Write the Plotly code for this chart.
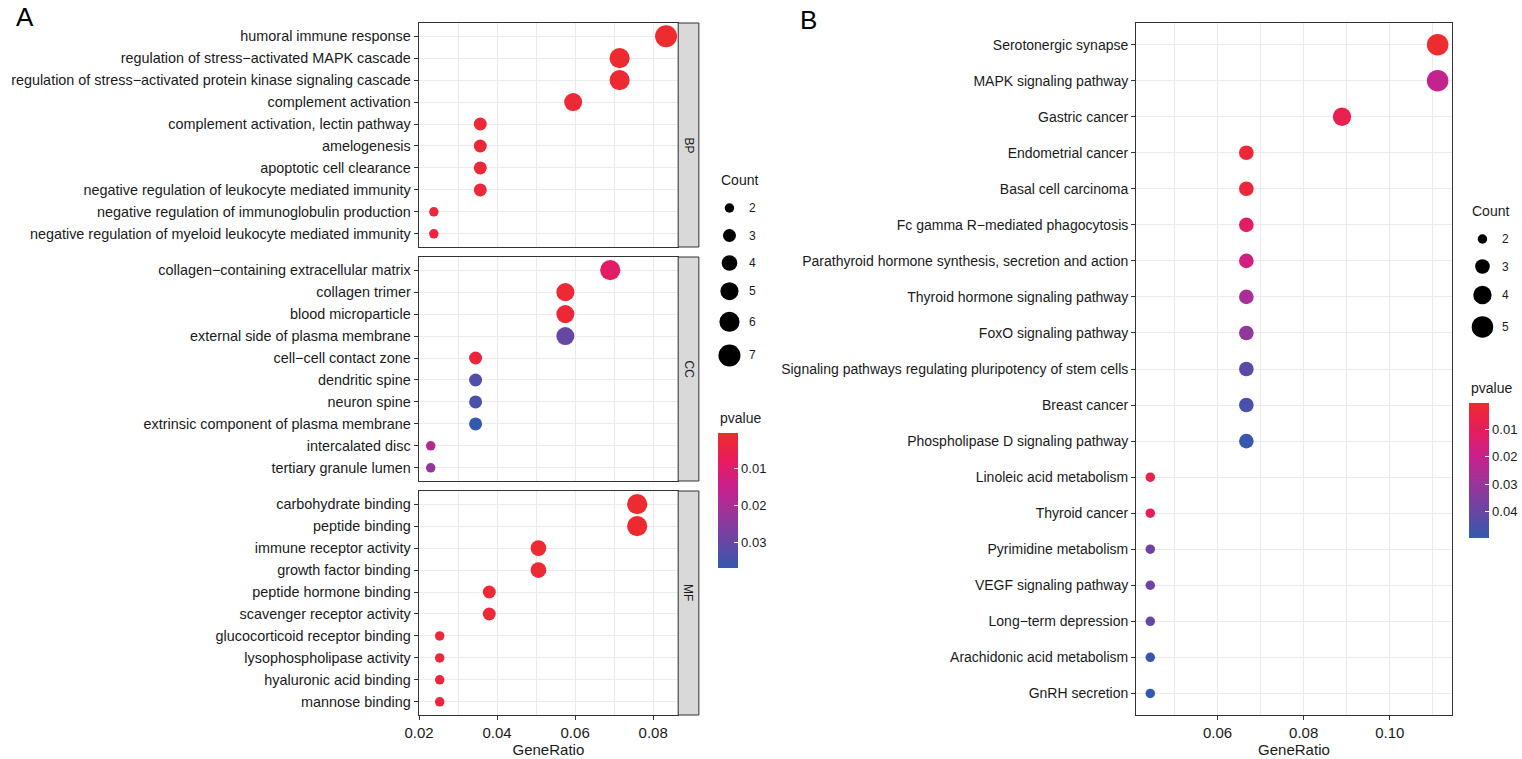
import math
import plotly.graph_objects as go

W, H = 1522, 759
FONT = "Liberation Sans Narrow, Liberation Sans, Arial, sans-serif"
TXT = "#1A1A1A"
GRID = "#EBEBEB"
LINE = "#333333"

# ---------------- data: panel A (GO) ----------------
bp_terms = ["humoral immune response",
            "regulation of stress\u2212activated MAPK cascade",
            "regulation of stress\u2212activated protein kinase signaling cascade",
            "complement activation",
            "complement activation, lectin pathway",
            "amelogenesis",
            "apoptotic cell clearance",
            "negative regulation of leukocyte mediated immunity",
            "negative regulation of immunoglobulin production",
            "negative regulation of myeloid leukocyte mediated immunity"]
bp_ratio = [0.0833, 0.0714, 0.0714, 0.0595, 0.0357, 0.0357, 0.0357, 0.0357, 0.0238, 0.0238]
bp_count = [7, 6, 6, 5, 3, 3, 3, 3, 2, 2]
bp_pval = [0.0004, 0.0008, 0.0010, 0.0012, 0.0014, 0.0016, 0.0018, 0.0020, 0.0024, 0.0028]

cc_terms = ["collagen\u2212containing extracellular matrix",
            "collagen trimer",
            "blood microparticle",
            "external side of plasma membrane",
            "cell\u2212cell contact zone",
            "dendritic spine",
            "neuron spine",
            "extrinsic component of plasma membrane",
            "intercalated disc",
            "tertiary granule lumen"]
cc_ratio = [0.0690, 0.0575, 0.0575, 0.0575, 0.0345, 0.0345, 0.0345, 0.0345, 0.0230, 0.0230]
cc_count = [6, 5, 5, 5, 3, 3, 3, 3, 2, 2]
cc_pval = [0.0090, 0.0012, 0.0016, 0.0300, 0.0030, 0.0333, 0.0340, 0.0370, 0.0186, 0.0235]

mf_terms = ["carbohydrate binding",
            "peptide binding",
            "immune receptor activity",
            "growth factor binding",
            "peptide hormone binding",
            "scavenger receptor activity",
            "glucocorticoid receptor binding",
            "lysophospholipase activity",
            "hyaluronic acid binding",
            "mannose binding"]
mf_ratio = [0.0759, 0.0759, 0.0506, 0.0506, 0.0380, 0.0380, 0.0253, 0.0253, 0.0253, 0.0253]
mf_count = [6, 6, 4, 4, 3, 3, 2, 2, 2, 2]
mf_pval = [0.0003, 0.0006, 0.0009, 0.0012, 0.0015, 0.0018, 0.0021, 0.0024, 0.0027, 0.0030]

facet_labels = ["BP", "CC", "MF"]

# ---------------- data: panel B (KEGG) ----------------
kegg_terms = ["Serotonergic synapse",
              "MAPK signaling pathway",
              "Gastric cancer",
              "Endometrial cancer",
              "Basal cell carcinoma",
              "Fc gamma R\u2212mediated phagocytosis",
              "Parathyroid hormone synthesis, secretion and action",
              "Thyroid hormone signaling pathway",
              "FoxO signaling pathway",
              "Signaling pathways regulating pluripotency of stem cells",
              "Breast cancer",
              "Phospholipase D signaling pathway",
              "Linoleic acid metabolism",
              "Thyroid cancer",
              "Pyrimidine metabolism",
              "VEGF signaling pathway",
              "Long\u2212term depression",
              "Arachidonic acid metabolism",
              "GnRH secretion"]
kegg_ratio = [0.1111, 0.1111, 0.0889, 0.0667, 0.0667, 0.0667, 0.0667, 0.0667, 0.0667,
              0.0667, 0.0667, 0.0667, 0.0444, 0.0444, 0.0444, 0.0444, 0.0444, 0.0444, 0.0444]
kegg_count = [5, 5, 4, 3, 3, 3, 3, 3, 3, 3, 3, 3, 2, 2, 2, 2, 2, 2, 2]
kegg_pval = [0.0005, 0.0210, 0.0075, 0.0028, 0.0032, 0.0120, 0.0170, 0.0270, 0.0320,
             0.0420, 0.0455, 0.0485, 0.0070, 0.0095, 0.0385, 0.0390, 0.0400, 0.0475, 0.0495]

a_legend_counts = [2, 3, 4, 5, 6, 7]
b_legend_counts = [2, 3, 4, 5]
a_cbar_ticks = [0.01, 0.02, 0.03]
b_cbar_ticks = [0.01, 0.02, 0.03, 0.04]

# ---------------- helpers ----------------
def px(x):
    return x / W

def py(y):
    return 1 - y / H

def size_map(counts, cmin, cmax, dmin, dmax):
    return [math.sqrt(dmin ** 2 + (c - cmin) / (cmax - cmin) * (dmax ** 2 - dmin ** 2)) for c in counts]

def size_a(c):
    return size_map(c, 2, 7, 9.5, 22.0)

def size_b(c):
    return size_map(c, 2, 5, 9.5, 21.5)

# colour scale (low p = red at top); colour values are -p so that low p sits at top of bar
SCALE = [[0.0, "#3359AE"], [0.2, "#6A45A3"], [0.4, "#9A3599"],
         [0.6, "#C8208C"], [0.8, "#E81C5C"], [1.0, "#EE2B2E"]]

fig = go.Figure()

A_X = (410, 673)
A_ROWS = [(23, 247), (257, 481), (491, 715)]
STRIP_W = 21
A_RANGE = [0.0199, 0.0864]

facets = [(bp_terms, bp_ratio, bp_count, bp_pval),
          (cc_terms, cc_ratio, cc_count, cc_pval),
          (mf_terms, mf_ratio, mf_count, mf_pval)]

layout = dict(
    width=W, height=H, margin=dict(l=0, r=0, t=0, b=0),
    paper_bgcolor="white", plot_bgcolor="rgba(0,0,0,0)",
    font=dict(family=FONT, color=TXT, size=14),
    showlegend=False,
)
shapes = []
annotations = []

for i, (terms, ratio, count, pv) in enumerate(facets):
    k = i + 1
    xa = "x" if k == 1 else f"x{k}"
    ya = "y" if k == 1 else f"y{k}"
    fig.add_trace(go.Scatter(
        x=ratio, y=terms, mode="markers", xaxis=xa, yaxis=ya,
        marker=dict(size=size_a(count), color=[-p for p in pv], coloraxis="coloraxis",
                    line=dict(width=0), opacity=1),
        hovertemplate="%{y}<br>GeneRatio=%{x}<extra></extra>"))
    top, bot = A_ROWS[i]
    last = (k == 3)
    layout["xaxis" if k == 1 else f"xaxis{k}"] = dict(
        domain=[px(A_X[0]), px(A_X[1])], anchor=ya, range=A_RANGE,
        tick0=0, dtick=0.02, showgrid=True, gridcolor=GRID, gridwidth=1.1,
        minor=dict(tick0=0, dtick=0.01, showgrid=True, gridcolor=GRID, gridwidth=0.55),
        showline=True, mirror=True, linecolor=LINE, linewidth=1, zeroline=False,
        ticks="outside" if last else "", ticklen=4, tickcolor=LINE,
        showticklabels=last, tickfont=dict(size=15, color=TXT, family=FONT),
        title=dict(text="GeneRatio" if last else "", font=dict(size=15, color=TXT, family=FONT), standoff=3),
    )
    layout["yaxis" if k == 1 else f"yaxis{k}"] = dict(
        domain=[py(bot), py(top)], anchor=xa, type="category",
        categoryorder="array", categoryarray=list(reversed(terms)),
        range=[-0.6, len(terms) - 0.4],
        showgrid=True, gridcolor=GRID, gridwidth=1.1,
        showline=True, mirror=True, linecolor=LINE, linewidth=1, zeroline=False,
        ticks="outside", ticklen=4, tickcolor=LINE,
        tickfont=dict(size=14.4, color=TXT, family=FONT),
    )
    shapes.append(dict(type="rect", xref="paper", yref="paper",
                       x0=px(A_X[1]), x1=px(A_X[1] + STRIP_W), y0=py(bot), y1=py(top),
                       fillcolor="#D9D9D9", line=dict(color=LINE, width=1), layer="above"))
    annotations.append(dict(xref="paper", yref="paper", x=px(A_X[1] + STRIP_W / 2),
                            y=py((top + bot) / 2), text=facet_labels[i], textangle=90,
                            showarrow=False, font=dict(size=12, color=TXT, family=FONT)))

# ---------------- panel B ----------------
B_X = (1137, 1457)
B_Y = (23, 715)
fig.add_trace(go.Scatter(
    x=kegg_ratio, y=kegg_terms, mode="markers", xaxis="x4", yaxis="y4",
    marker=dict(size=size_b(kegg_count), color=[-p for p in kegg_pval], coloraxis="coloraxis2",
                line=dict(width=0), opacity=1),
    hovertemplate="%{y}<br>GeneRatio=%{x}<extra></extra>"))
layout["xaxis4"] = dict(
    domain=[px(B_X[0]), px(B_X[1])], anchor="y4", range=[0.0411, 0.1144],
    tick0=0, dtick=0.02, showgrid=True, gridcolor=GRID, gridwidth=1.1,
    minor=dict(tick0=0, dtick=0.01, showgrid=True, gridcolor=GRID, gridwidth=0.55),
    showline=True, mirror=True, linecolor=LINE, linewidth=1, zeroline=False,
    ticks="outside", ticklen=4, tickcolor=LINE, tickformat=".2f",
    tickfont=dict(size=15, color=TXT, family=FONT),
    title=dict(text="GeneRatio", font=dict(size=15, color=TXT, family=FONT), standoff=3),
)
layout["yaxis4"] = dict(
    domain=[py(B_Y[1]), py(B_Y[0])], anchor="x4", type="category",
    categoryorder="array", categoryarray=list(reversed(kegg_terms)),
    range=[-0.6, len(kegg_terms) - 0.4],
    showgrid=True, gridcolor=GRID, gridwidth=1.1,
    showline=True, mirror=True, linecolor=LINE, linewidth=1, zeroline=False,
    ticks="outside", ticklen=4, tickcolor=LINE,
    tickfont=dict(size=14, color=TXT, family=FONT),
)

# ---------------- pixel helper axis for size legends ----------------
layout["xaxis5"] = dict(domain=[0, 1], range=[0, W], visible=False, anchor="y5", fixedrange=True)
layout["yaxis5"] = dict(domain=[0, 1], range=[H, 0], visible=False, anchor="x5", fixedrange=True)

def size_legend(counts, sizes, x_dot, x_lab, y_first, x_title, y_title):
    ys = []
    keyh = [max(27.5, 1.6 * s) for s in sizes]
    y = y_first
    for j in range(len(counts)):
        if j > 0:
            y += (keyh[j - 1] + keyh[j]) / 2
        ys.append(y)
    fig.add_trace(go.Scatter(x=[x_dot] * len(counts), y=ys, mode="markers", xaxis="x5", yaxis="y5",
                             marker=dict(size=sizes, color="#000000", opacity=1, line=dict(width=0)),
                             cliponaxis=False, hoverinfo="skip"))
    for c, yy in zip(counts, ys):
        annotations.append(dict(xref="paper", yref="paper", x=px(x_lab), y=py(yy), text=str(c),
                                xanchor="left", yanchor="middle", showarrow=False,
                                font=dict(size=12, color=TXT, family=FONT)))
    annotations.append(dict(xref="paper", yref="paper", x=px(x_title), y=py(y_title), text="Count",
                            xanchor="left", yanchor="middle", showarrow=False,
                            font=dict(size=14, color=TXT, family=FONT)))

size_legend(a_legend_counts, size_a(a_legend_counts), 725, 743, 208, 714, 180)
size_legend(b_legend_counts, size_b(b_legend_counts), 1488, 1506, 239, 1475, 211)

# ---------------- colour bars ----------------
def cbar(x_left, y_top, length, ticks):
    return dict(thickness=20, len=length, lenmode="pixels", x=px(x_left), xanchor="left",
                y=py(y_top), yanchor="top", xpad=0, ypad=0, outlinewidth=0,
                ticks="inside", ticklen=4, tickcolor="white", tickwidth=1,
                tickvals=[-t for t in ticks], ticktext=[f"{t:.2f}" for t in ticks],
                tickfont=dict(size=13, color=TXT, family=FONT), title=dict(text=""))

layout["coloraxis"] = dict(colorscale=SCALE, colorbar=cbar(713, 433, 135, a_cbar_ticks))
layout["coloraxis2"] = dict(colorscale=SCALE, colorbar=cbar(1474, 403, 135, b_cbar_ticks))
annotations.append(dict(xref="paper", yref="paper", x=px(713), y=py(418), text="pvalue",
                        xanchor="left", yanchor="middle", showarrow=False,
                        font=dict(size=14, color=TXT, family=FONT)))
annotations.append(dict(xref="paper", yref="paper", x=px(1474), y=py(388), text="pvalue",
                        xanchor="left", yanchor="middle", showarrow=False,
                        font=dict(size=14, color=TXT, family=FONT)))

# panel letters
annotations.append(dict(xref="paper", yref="paper", x=px(0), y=py(17), text="A",
                        xanchor="left", yanchor="middle", showarrow=False,
                        font=dict(size=26, color="black", family="Liberation Sans, Arial, sans-serif")))
annotations.append(dict(xref="paper", yref="paper", x=px(794), y=py(20), text="B",
                        xanchor="left", yanchor="middle", showarrow=False,
                        font=dict(size=26, color="black", family="Liberation Sans, Arial, sans-serif")))

layout["shapes"] = shapes
layout["annotations"] = annotations
fig.update_layout(**layout)
fig.write_html("out.html", config={"displayModeBar": False},
               post_script="document.body.style.margin='0px';document.body.style.overflow='hidden';")
